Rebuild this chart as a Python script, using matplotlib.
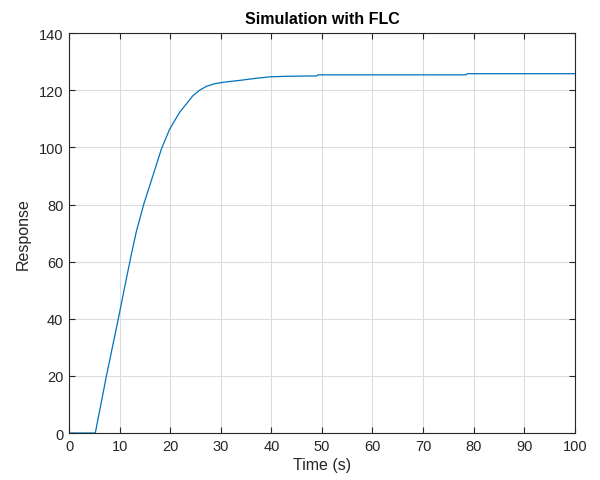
import numpy as np
import matplotlib
matplotlib.use('Agg')
import matplotlib.pyplot as plt

plt.rc('font', family=['Liberation Sans', 'DejaVu Sans'], size=10.5)

# response
time = [0, 5.2, 7.4, 9.75, 11.33, 12.32, 13.31, 14.81, 16.59, 18.26, 19.9,
        21.88, 24.5, 25.8, 27.2, 28.8, 30.5, 34.4, 37.0, 39.7, 43.0, 47.6, 49.0,
        49.2, 78.5, 78.7, 100]
resp = [0, 0, 20, 40, 53.9, 62.5, 70.5, 80.3, 90.1, 99.4, 106.4,
        112.3, 118.1, 120.0, 121.4, 122.3, 122.8, 123.6, 124.2, 124.7, 124.9, 125.0, 125.0,
        125.4, 125.4, 125.8, 125.8]
xticks = np.arange(0, 101, 10)
yticks = np.arange(0, 141, 20)

dark = '#262626'
fig = plt.figure(figsize=(6, 4.81), dpi=100)
ax = fig.add_axes([0.115, 0.0977, 0.843, 0.8313])
ax.plot(time, resp, color='#0072BD', lw=0.9)
ax.set_xlim(0, 100)
ax.set_ylim(0, 140)
ax.set_xticks(xticks)
ax.set_yticks(yticks)
ax.grid(True, color='#dcdcdc', lw=0.8)
ax.set_axisbelow(True)
ax.tick_params(direction='in', length=4, width=0.8, colors=dark,
               top=True, right=True, labelcolor=dark, pad=4)
for s in ax.spines.values():
    s.set_color(dark)
    s.set_linewidth(0.8)
ax.set_xlabel('Time (s)', fontsize=11.5, color=dark, labelpad=3)
ax.set_ylabel('Response', fontsize=11.5, color=dark, labelpad=6)
ax.set_title('Simulation with FLC', fontsize=11.5, fontweight='bold', color='black', pad=7)

fig.savefig('out.png', dpi=100)
